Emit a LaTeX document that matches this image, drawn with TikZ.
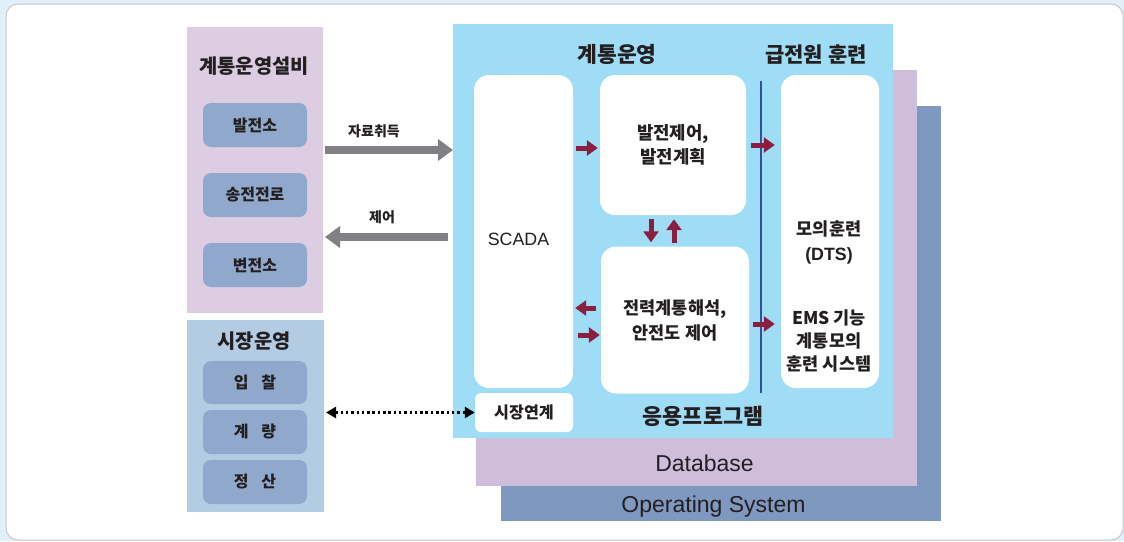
\documentclass[tikz,border=0pt]{standalone}
\usepackage{fontspec}
\setmainfont{Noto Sans CJK KR}
\newfontfamily\lat{Liberation Sans}
\usetikzlibrary{arrows.meta}
\definecolor{bgblue}{RGB}{226,238,248}
\definecolor{framegray}{RGB}{200,200,204}
\definecolor{panelA}{RGB}{220,205,226}
\definecolor{boxblue}{RGB}{143,168,204}
\definecolor{panelB}{RGB}{179,204,227}
\definecolor{appblue}{RGB}{159,220,246}
\definecolor{dbpurple}{RGB}{207,190,219}
\definecolor{osblue}{RGB}{127,152,191}
\definecolor{maroon}{RGB}{139,31,63}
\definecolor{vblue}{RGB}{47,79,159}
\definecolor{arrgray}{RGB}{128,128,133}
\definecolor{txt}{RGB}{35,31,32}
\begin{document}
\begin{tikzpicture}[x=1pt,y=-1pt,
  layer/.style={inner sep=0pt, outer sep=0pt},
  ttl/.style={font=\fontsize{19.8}{22}\selectfont\bfseries, text=txt, inner sep=0pt},
  lbl/.style={font=\fontsize{14}{16}\selectfont\bfseries, text=txt, inner sep=0pt},
  lbox/.style={fill=boxblue, rounded corners=8pt, minimum width=104pt, minimum height=44pt, inner sep=0pt, font=\fontsize{16}{18}\selectfont\bfseries, text=txt},
  wbox/.style={fill=white, rounded corners=15pt, inner sep=0pt, align=center, font=\fontsize{17.8}{24}\selectfont\bfseries, text=txt},
  wtext/.style={align=center, inner sep=0pt, font=\fontsize{17.5}{23}\selectfont\bfseries, text=txt},
  garrow/.style={draw=arrgray, line width=8pt, -{Triangle[width=21pt,length=15pt]}},
  rarrow/.style={draw=maroon, line width=5pt, -{Triangle[width=15pt,length=11pt]}},
  dotarrow/.style={draw=black, line width=2.5pt, dash pattern=on 2.5pt off 2.8pt, {Triangle[width=11pt,length=10pt]}-{Triangle[width=11pt,length=10pt]}},
  latin/.style={font=\lat\fontsize{23}{26}\selectfont, text=txt, inner sep=0pt}
]
\useasboundingbox (0,0) rectangle (1124,541);
\fill[bgblue] (0,0) rectangle (1124,541);
\draw[framegray, fill=white, line width=1pt, rounded corners=12pt] (6,4) rectangle (1123,540);

% left panels
\node[layer, fill=panelA, minimum width=136pt, minimum height=286pt] (pA) at (255,170) {};
\node[ttl] (tA) at (254,66) {계통운영설비};
\node[lbox] (b1) at (255,125) {발전소};
\node[lbox] (b2) at (255,195) {송전전로};
\node[lbox] (b3) at (255,265) {변전소};

\node[layer, fill=panelB, minimum width=137pt, minimum height=192pt] (pB) at (255.5,416) {};
\node[ttl] (tB) at (254,341) {시장운영};
\node[lbox, minimum height=43pt] (c1) at (255,382.5) {입\hspace{0.8em}찰};
\node[lbox] (c2) at (255,432) {계\hspace{0.8em}량};
\node[lbox] (c3) at (255,482) {정\hspace{0.8em}산};

% layers
\node[layer, fill=osblue, minimum width=440pt, minimum height=415pt] (os) at (721,313.5) {};
\node[layer, fill=dbpurple, minimum width=441pt, minimum height=416pt] (db) at (696.5,278) {};
\node[layer, fill=appblue, minimum width=440pt, minimum height=414pt] (app) at (673,231) {};
\node[latin] (tos) at (713.5,507) {Operating System};
\node[latin] (tdb) at (704.5,463) {Database};

\node[ttl, font=\fontsize{21.5}{24}\selectfont\bfseries] (t1) at (617,54) {계통운영};
\node[ttl, font=\fontsize{21}{24}\selectfont\bfseries] (t2) at (816,55) {급전원 훈련};
\node[ttl, font=\fontsize{21.8}{24}\selectfont\bfseries] (t3) at (703,416) {응용프로그램};

% white boxes
\node[wbox, minimum width=99pt, minimum height=313pt] (scada) at (523.5,231.5) {};
\node[latin, font=\lat\fontsize{17.8}{20}\selectfont] (tscada) at (518.5,239) {SCADA};
\node[wbox, rounded corners=6pt, minimum width=98pt, minimum height=39pt, font=\fontsize{16.2}{18}\selectfont\bfseries] (mkt) at (524,412.5) {시장연계};
\node[wbox, minimum width=146pt, minimum height=140pt] (gen) at (673,145) {발전제어,\\발전계획};
\node[wbox, font=\fontsize{17.5}{25}\selectfont\bfseries, minimum width=148pt, minimum height=147pt] (ana) at (675,320) {전력계통해석,\\안전도 제어};
\node[wbox, minimum width=98pt, minimum height=313pt] (dts) at (830,231.5) {};
\node[wtext, font=\fontsize{17.5}{25}\selectfont\bfseries] (d1) at (829,242.5) {모의훈련\\{\lat\fontsize{17.8}{20}\selectfont (DTS)}};
\node[wtext] (d2) at (829,340.5) {EMS 기능\\계통모의\\훈련 시스템};

% vertical blue line
\coordinate (vt) at (761,81);
\coordinate (vb) at (761,393);
\draw[vblue, line width=2pt] (vt) -- (vb);

% grey arrows
\draw[garrow] ([xshift=2pt]pA.east |- 0,150) -- (app.west |- 0,150);
\node[lbl] (l1) at (374,131) {자료취득};
\draw[garrow] ([xshift=-5pt]app.west |- 0,237) -- ([xshift=2pt]pA.east |- 0,237);
\node[lbl] (l2) at (382,217) {제어};

% dotted arrow
\draw[dotarrow] ([xshift=2pt]pB.east |- mkt.west) -- (mkt.west);

% red arrows
\draw[rarrow] ([xshift=3pt]scada.east |- 0,148) -- ([xshift=-2pt]gen.west |- 0,148);
\draw[rarrow] ([xshift=5pt]gen.east |- 0,145) -- ([xshift=-6pt]dts.west |- 0,145);
\draw[rarrow] ([yshift=-4pt]gen.south -| 651,0) -- ([yshift=4pt]ana.north -| 651,0);
\draw[rarrow] ([yshift=3pt]ana.north -| 674,0) -- ([yshift=-4pt]gen.south -| 674,0);
\draw[rarrow] ([xshift=-5pt]ana.west |- 0,308) -- ([xshift=2pt]scada.east |- 0,308);
\draw[rarrow] ([xshift=5pt]scada.east |- 0,335) -- ([xshift=-1pt]ana.west |- 0,335);
\draw[rarrow] ([xshift=4pt]ana.east |- 0,324) -- ([xshift=-6pt]dts.west |- 0,324);
\end{tikzpicture}
\end{document}
